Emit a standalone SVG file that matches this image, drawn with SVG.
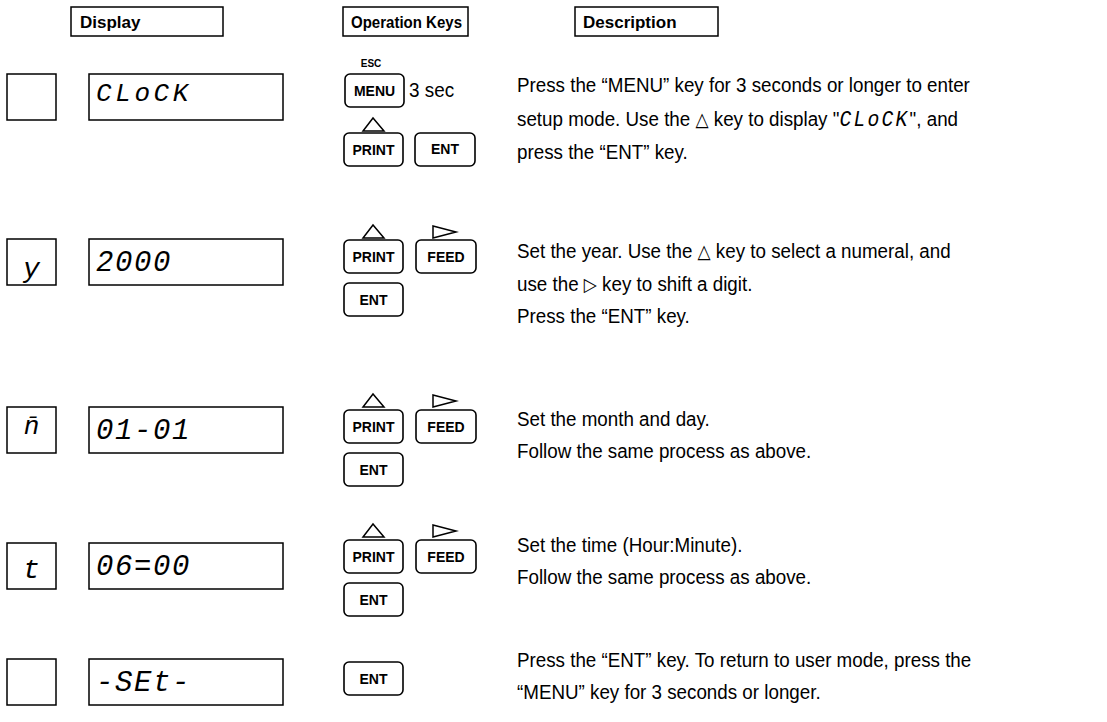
<svg xmlns="http://www.w3.org/2000/svg" width="1107" height="722" viewBox="0 0 1107 722">
<style>
.hdr{fill:#fff;stroke:#000;stroke-width:1.5}
.htx{font-family:"Liberation Sans",Arial,sans-serif;font-weight:bold;font-size:17px;fill:#000}
.box{fill:#fff;stroke:#000;stroke-width:1.5}
.seg{font-family:"Liberation Mono","DejaVu Sans Mono",monospace;font-style:italic;fill:#000}
.key{fill:#fff;stroke:#000;stroke-width:1.6}
.ktx{font-family:"Liberation Sans",Arial,sans-serif;font-weight:bold;font-size:14px;fill:#000;text-anchor:middle}
.tri{fill:#fff;stroke:#000;stroke-width:1.5}
.desc{font-family:"Liberation Sans",Arial,sans-serif;font-size:21px;fill:#000}
.sym{font-family:"DejaVu Sans",sans-serif;font-size:19px}
</style>
<rect width="1107" height="722" fill="#fff"/>

<g id="headers">
  <rect class="hdr" x="71" y="7" width="152" height="29"/>
  <text class="htx" x="80" y="28">Display</text>
  <rect class="hdr" x="343" y="7" width="125" height="29"/>
  <text class="htx" x="351" y="28" textLength="111" lengthAdjust="spacingAndGlyphs">Operation Keys</text>
  <rect class="hdr" x="575" y="7" width="143" height="29"/>
  <text class="htx" x="583" y="28">Description</text>
</g>

<g id="row1">
  <rect class="box" x="7" y="74" width="49" height="46"/>
  <rect class="box" x="89" y="74" width="194" height="46"/>
  <text class="seg" x="96" y="101" font-size="26" letter-spacing="3.6">CLoCK</text>
  <text class="ktx" x="371" y="67" style="font-size:10px">ESC</text>
  <rect class="key" x="345" y="74" width="59" height="33" rx="5"/>
  <text class="ktx" x="374.5" y="96">MENU</text>
  <g transform="translate(409 0) scale(0.9 1)"><text class="desc" x="0" y="97">3 sec</text></g>
  <polygon class="tri" points="373,118 363,131 384,131"/>
  <rect class="key" x="344" y="133" width="59" height="33" rx="5"/>
  <text class="ktx" x="373.5" y="155">PRINT</text>
  <rect class="key" x="415" y="133" width="60" height="33" rx="5"/>
  <text class="ktx" x="445" y="154">ENT</text>
  <g transform="translate(517 0) scale(0.895 1)">
    <text class="desc" x="0" y="92">Press the “MENU” key for 3 seconds or longer to enter</text>
    <text class="desc" x="0" y="126">setup mode. Use the <tspan class="sym">△</tspan> key to display "<tspan class="seg" font-size="22" letter-spacing="2.5">CLoCK</tspan>", and</text>
    <text class="desc" x="0" y="159">press the “ENT” key.</text>
  </g>
</g>

<g id="row2">
  <rect class="box" x="7" y="239" width="49" height="46"/>
  <text class="seg" x="31.5" y="277" font-size="28" text-anchor="middle">y</text>
  <rect class="box" x="89" y="239" width="194" height="46"/>
  <text class="seg" x="96" y="271" font-size="29" letter-spacing="1.6">2000</text>
  <polygon class="tri" points="373,225 363,238 384,238"/>
  <polygon class="tri" points="433,226 456,232 433,238"/>
  <rect class="key" x="344" y="240" width="59" height="33" rx="5"/>
  <text class="ktx" x="373.5" y="262">PRINT</text>
  <rect class="key" x="416" y="240" width="60" height="33" rx="5"/>
  <text class="ktx" x="446" y="262">FEED</text>
  <rect class="key" x="344" y="283" width="59" height="33" rx="5"/>
  <text class="ktx" x="373.5" y="305">ENT</text>
  <g transform="translate(517 0) scale(0.895 1)">
    <text class="desc" x="0" y="258">Set the year. Use the <tspan class="sym">△</tspan> key to select a numeral, and</text>
    <text class="desc" x="0" y="291">use the <tspan class="sym">▷</tspan> key to shift a digit.</text>
    <text class="desc" x="0" y="323">Press the “ENT” key.</text>
  </g>
</g>

<g id="row3">
  <rect class="box" x="7" y="407" width="49" height="46"/>
  <text class="seg" x="31.5" y="434" font-size="26" text-anchor="middle">n̄</text>
  <rect class="box" x="89" y="407" width="194" height="46"/>
  <text class="seg" x="96" y="439" font-size="29" letter-spacing="1.6">01-01</text>
  <polygon class="tri" points="373,394 363,407 384,407"/>
  <polygon class="tri" points="433,395 456,401 433,407"/>
  <rect class="key" x="344" y="410" width="59" height="33" rx="5"/>
  <text class="ktx" x="373.5" y="432">PRINT</text>
  <rect class="key" x="416" y="410" width="60" height="33" rx="5"/>
  <text class="ktx" x="446" y="432">FEED</text>
  <rect class="key" x="344" y="453" width="59" height="33" rx="5"/>
  <text class="ktx" x="373.5" y="475">ENT</text>
  <g transform="translate(517 0) scale(0.895 1)">
    <text class="desc" x="0" y="426">Set the month and day.</text>
    <text class="desc" x="0" y="458">Follow the same process as above.</text>
  </g>
</g>

<g id="row4">
  <rect class="box" x="7" y="543" width="49" height="46"/>
  <text class="seg" x="31.5" y="578" font-size="28" text-anchor="middle">t</text>
  <rect class="box" x="89" y="543" width="194" height="46"/>
  <text class="seg" x="96" y="575" font-size="29" letter-spacing="1.6">06=00</text>
  <polygon class="tri" points="373,524 363,537 384,537"/>
  <polygon class="tri" points="433,525 456,531 433,537"/>
  <rect class="key" x="344" y="540" width="59" height="33" rx="5"/>
  <text class="ktx" x="373.5" y="562">PRINT</text>
  <rect class="key" x="416" y="540" width="60" height="33" rx="5"/>
  <text class="ktx" x="446" y="562">FEED</text>
  <rect class="key" x="344" y="583" width="59" height="33" rx="5"/>
  <text class="ktx" x="373.5" y="605">ENT</text>
  <g transform="translate(517 0) scale(0.895 1)">
    <text class="desc" x="0" y="552">Set the time (Hour:Minute).</text>
    <text class="desc" x="0" y="584">Follow the same process as above.</text>
  </g>
</g>

<g id="row5">
  <rect class="box" x="7" y="659" width="49" height="46"/>
  <rect class="box" x="89" y="659" width="194" height="46"/>
  <text class="seg" x="96" y="691" font-size="29" letter-spacing="1.6">-SEt-</text>
  <rect class="key" x="344" y="662" width="59" height="33" rx="5"/>
  <text class="ktx" x="373.5" y="684">ENT</text>
  <g transform="translate(517 0) scale(0.895 1)">
    <text class="desc" x="0" y="667">Press the “ENT” key. To return to user mode, press the</text>
    <text class="desc" x="0" y="699">“MENU” key for 3 seconds or longer.</text>
  </g>
</g>

<g id="connectors"></g>
</svg>
